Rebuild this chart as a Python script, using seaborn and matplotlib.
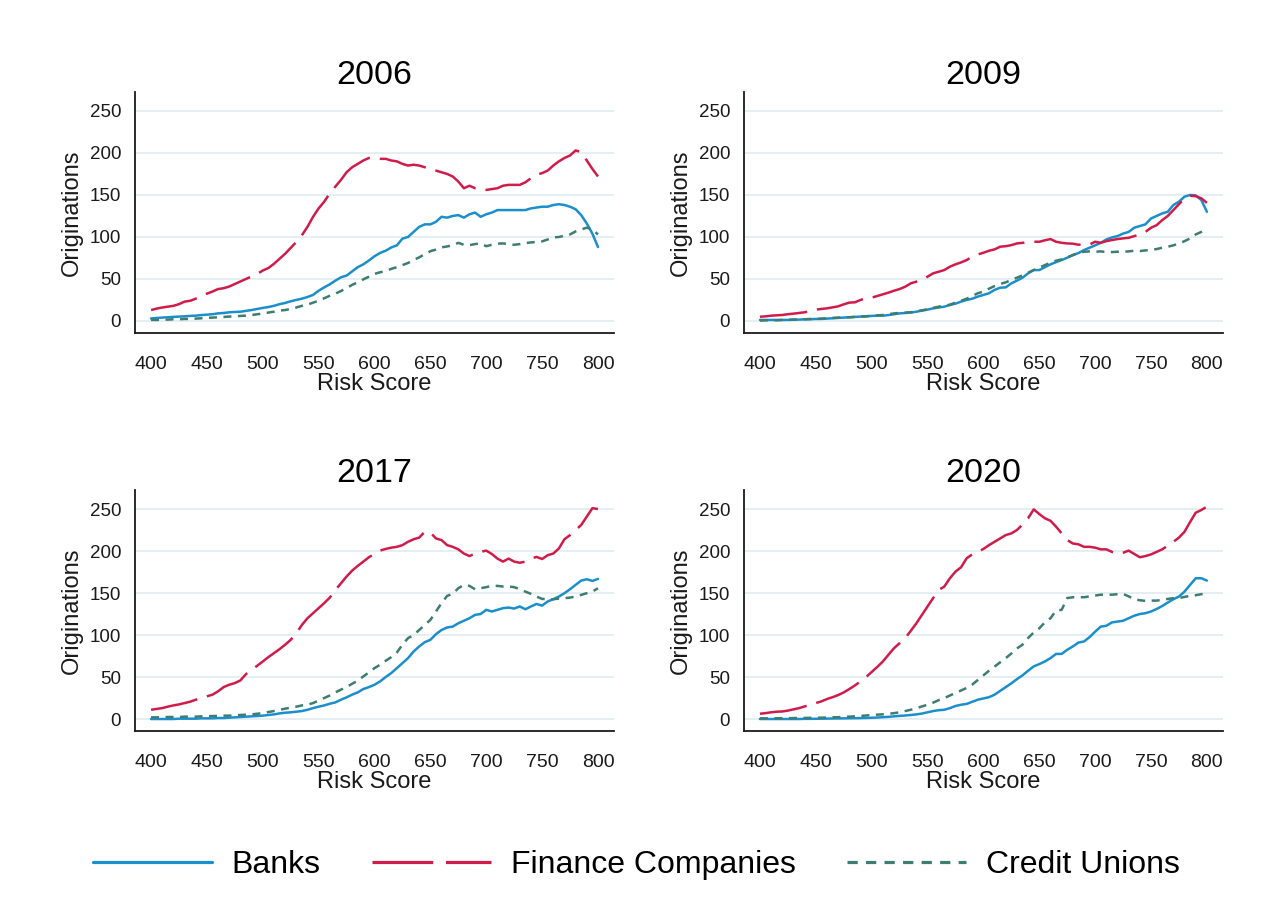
import matplotlib
matplotlib.use("Agg")
import matplotlib.pyplot as plt
import pandas as pd
import seaborn as sns
from matplotlib.lines import Line2D

# Risk score grid shared by every panel
score = list(range(400, 805, 5))
years = ["2006", "2009", "2017", "2020"]
lenders = ["Banks", "Finance Companies", "Credit Unions"]

banks_2006 = [3, 3.5, 4, 4.4, 4.8, 5.2, 5.5, 6, 6.3, 7,
              7.5, 8, 9, 9.5, 10.3, 10.7, 11, 12, 13, 14.3,
              15.5, 16.6, 18, 20, 21.4, 23.4, 25, 26.5, 28.5, 31,
              36, 40, 43.6, 48, 52, 54, 59, 64, 67.4, 72,
              77, 81, 83.6, 87.5, 90, 98, 100, 106, 112, 115,
              115, 118, 124, 123, 125, 126, 123, 127, 129, 124,
              127, 129, 132, 132, 132, 132, 132, 132, 134, 135,
              136, 136, 138, 139, 138, 136, 133, 126, 116, 104,
              88]
finance_2006 = [13, 14.7, 16, 17, 18, 20, 23, 24, 26.5, 30,
                32.5, 35, 38, 39, 41, 44, 47, 50, 53, 56,
                60, 63, 68, 74, 80, 87, 94, 102, 112, 124,
                134, 142, 152, 160, 168, 177, 183, 187, 191, 194,
                194, 193, 193, 191, 190, 187, 185, 186, 185, 183,
                181, 179, 177, 175, 172, 166, 158, 161, 158, 157,
                156, 157, 158, 161, 162, 162, 162, 165, 170, 174,
                176, 179, 185, 190, 194, 197, 203, 201, 191, 181,
                172]
credit_2006 = [1.2, 1.2, 1.6, 1.6, 2, 2, 2.4, 2.4, 2.8, 3.2,
               3.6, 4, 4.4, 4.8, 5.2, 5.5, 6, 6.3, 7, 8,
               8.7, 10, 11, 12.3, 13, 14.3, 16, 18, 19.4, 21.8,
               24, 27, 30, 32.5, 35.7, 39, 43, 46, 49.5, 52.7,
               56, 58, 59.4, 62, 64, 66.5, 69, 72.5, 75.7, 79.6,
               83, 85, 87.6, 88.7, 90, 93, 90.7, 90.3, 91.5, 92.3,
               89, 90.7, 92, 92.3, 91.5, 90.7, 91.5, 92.7, 93.5, 94,
               94.7, 97, 99.4, 100, 101.4, 103, 106.6, 109, 111, 109,
               103]

banks_2009 = [1.2, 1.2, 1.2, 1.2, 1.2, 1.2, 1.6, 1.6, 2, 2,
              2.4, 2.4, 2.8, 3.2, 3.6, 4, 4.4, 4.8, 5.2, 5.5,
              6, 6.3, 6.3, 7, 8, 9, 9.5, 10, 11, 12.3,
              13.5, 15, 16, 17, 19, 20.6, 23, 25, 26.5, 29,
              31, 33, 37, 39.6, 40, 44.8, 48, 51.5, 56.7, 60.6,
              60.6, 64, 67.4, 70, 72.5, 75.3, 78.4, 80.8, 84.4, 87.2,
              90, 93, 97, 99.4, 101, 104, 106, 111, 113, 115,
              122, 125, 128, 130, 138, 142, 148, 150, 149.4, 144,
              130]
finance_2009 = [5, 5.5, 6.3, 6.7, 7.1, 8, 8.7, 9.5, 10.3, 12,
                13.5, 14.3, 15, 16.2, 17.4, 19.8, 21.8, 22.2, 25, 27.3,
                27.7, 29.7, 31.7, 33.7, 36, 38, 40.8, 44.8, 46.8, 49,
                52.7, 56.7, 58.6, 60.6, 64.6, 67.4, 69.7, 72.5, 76.5, 79.2,
                81.2, 83.6, 85.2, 88.4, 89, 90.3, 92.3, 93, 94, 94.3,
                94.3, 96, 97.5, 94.3, 93, 92.3, 92, 90.7, 91.5, 91,
                94.3, 93, 95, 96.3, 97.5, 98.3, 99, 101, 103, 106,
                111, 114, 120, 125, 132, 139, 146, 149, 148.6, 146,
                140.6]
credit_2009 = [0.4, 0.8, 0.8, 0.8, 1.2, 1.2, 1.6, 1.6, 2, 2.4,
               2.4, 2.8, 3.2, 3.6, 4, 4, 4.4, 4.8, 5.2, 5.5,
               6.3, 6.7, 7, 8, 9, 9.5, 10, 10.3, 11.5, 12.7,
               13.9, 15.5, 17, 18, 19.4, 21.8, 24, 26.5, 29.7, 33,
               35, 38.4, 41.6, 44, 46, 48.7, 51.5, 54.3, 57.4, 60.6,
               63.4, 66.5, 69.3, 71.7, 73.3, 75.7, 78.4, 81.2, 82.4, 82.8,
               82.4, 82.8, 82, 82, 82.4, 82.4, 82.8, 83.6, 83.2, 84,
               84.4, 85.6, 87.2, 88.4, 90, 92.3, 95, 98.3, 103, 106,
               110]

banks_2017 = [0, 0, 0, 0, 0, 0.4, 0.4, 0.4, 0.4, 0.8,
              0.8, 0.8, 1.2, 1.2, 1.6, 2, 2.4, 2.8, 3.2, 3.6,
              4, 4.8, 5.5, 6.7, 7.5, 8, 8.7, 9.5, 11, 13,
              14.7, 16.2, 18.2, 19.8, 23, 25.8, 29, 31.7, 35.7, 38,
              40.8, 44.8, 50, 54.7, 60.6, 66.5, 72.5, 80.4, 86.4, 91.5,
              94.3, 101, 106, 109, 110, 114, 117, 120, 124, 125,
              130, 128, 130, 132, 132.7, 131.5, 134, 130.7, 134, 137,
              135, 140, 142.6, 145.8, 149.8, 154.5, 159.7, 164.8, 166.4, 164.4,
              166.8]
finance_2017 = [11, 12, 13, 14.7, 16.2, 17.4, 19, 20.6, 23, 25,
                27, 29, 33, 38, 40.8, 42.8, 46, 53.5, 58.6, 63.4,
                68.5, 73.7, 78.4, 83.2, 88.4, 94.3, 102, 112, 120, 126,
                132, 138, 144.6, 153.7, 161.6, 169.6, 176.7, 182.3, 187.4, 192.6,
                196.5, 200.5, 202.5, 204, 205, 207, 211, 214, 216, 223,
                222, 215, 213, 207, 205, 202, 197, 194, 197, 199,
                200.5, 196.5, 191, 187.4, 191, 187.4, 186, 187.4, 191, 193,
                190.5, 195, 197, 203, 214, 219, 225, 231, 241, 251,
                250]
credit_2017 = [2, 2, 2, 2.4, 2.4, 2.4, 2.8, 2.8, 2.8, 3.2,
               3.2, 3.6, 3.6, 4, 4, 4.4, 4.8, 5.2, 5.5, 6.3,
               7, 8.3, 9.5, 11, 12.3, 13.5, 14.7, 16.2, 17, 19,
               22, 25, 28, 31.7, 35, 38, 42, 45.6, 50.7, 55.5,
               60.6, 64.6, 69.3, 73.7, 79.2, 88.4, 96.3, 100, 106, 112,
               118, 128, 138, 146.6, 149, 155.7, 159.7, 158.5, 154.5, 155.7,
               157, 158.5, 158.5, 157.7, 157.7, 157, 154.5, 151.7, 149, 145.8,
               143, 142.6, 142.6, 143.4, 143.8, 144.6, 145.8, 147.8, 149.8, 151.7,
               155.7]

banks_2020 = [0, 0, 0, 0, 0, 0, 0, 0, 0.2, 0.2,
              0.3, 0.4, 0.5, 0.6, 0.7, 0.8, 0.9, 1, 1.1, 1.3,
              1.5, 1.8, 2.2, 2.6, 3.2, 3.7, 4.2, 4.8, 5.5, 6.5,
              8, 9.5, 10.5, 11, 13, 15.5, 17, 18, 20.5, 23,
              24.5, 26, 29, 33.5, 38, 42.5, 47.5, 52, 57.5, 62.6,
              65.4, 68.5, 72.5, 77.5, 77.5, 82.4, 86.4, 91, 92.3, 97.5,
              104, 110, 111, 115, 116, 117, 120, 123, 125, 126,
              128, 131, 134.5, 138.7, 142.6, 145.8, 151.7, 159.7, 167.6, 167.6,
              164.8]
finance_2020 = [6.3, 7, 8, 8.7, 9, 10, 11.5, 13, 15, 16.6,
                19, 21, 23.8, 26, 28.5, 31.7, 35.7, 40, 44.8, 50,
                56, 62, 68.5, 76.5, 84.4, 90.3, 96.3, 105, 114, 124,
                134, 144, 153.7, 157.7, 167.6, 175.5, 180.7, 191.4, 196, 199,
                202.5, 207, 211, 215, 219, 221, 225, 231.6, 239, 249.6,
                244, 239, 236, 229, 221, 213, 209, 208, 205, 205,
                204, 202, 202, 199, 197, 198, 200.5, 196.5, 192.6, 194,
                196, 199, 202, 206.4, 211, 216, 223, 234.6, 245.6, 248.8,
                252.8]
credit_2020 = [0.8, 0.8, 0.8, 0.9, 1, 1, 1.1, 1.2, 1.3, 1.4,
               1.5, 1.6, 1.8, 2, 2.2, 2.5, 2.8, 3.2, 3.6, 4.2,
               4.8, 5.2, 5.6, 6.2, 7, 8, 9.5, 11, 12.8, 15,
               17, 19.5, 22.5, 25, 28, 31, 34, 37, 41, 46.5,
               52, 57.5, 62.5, 67.5, 72.5, 78, 84, 88.5, 96.5, 103,
               108, 115, 120, 129, 130, 144, 145, 145, 145, 146,
               147, 148, 148, 148, 148.6, 149, 146, 142.6, 141.4, 140.6,
               141, 141, 141.8, 143, 143.8, 144, 145.4, 146.6, 147.4, 148.6,
               149.8]

y_ticks = [0, 50, 100, 150, 200, 250]
x_ticks = [400, 450, 500, 550, 600, 650, 700, 750, 800]

series = {
    "2006": [banks_2006, finance_2006, credit_2006],
    "2009": [banks_2009, finance_2009, credit_2009],
    "2017": [banks_2017, finance_2017, credit_2017],
    "2020": [banks_2020, finance_2020, credit_2020],
}

frames = []
for year in years:
    for lender, vals in zip(lenders, series[year]):
        frames.append(pd.DataFrame({"year": year, "lender": lender,
                                    "score": score, "originations": vals}))
data = pd.concat(frames, ignore_index=True)

sns.set_style("white")
plt.rcParams["font.family"] = ["Liberation Sans", "DejaVu Sans"]

palette = {"Banks": "#1b8fcc", "Finance Companies": "#d01c4b",
           "Credit Unions": "#3d7d72"}
dash_map = {"Banks": "", "Finance Companies": (19, 4),
            "Credit Unions": (3.2, 2.6)}

fig = plt.figure(figsize=(12.67, 9.17), dpi=100)

panel_w, panel_h = 0.3777, 0.2628
lefts = [0.1066, 0.5872]
bottoms = [0.6369, 0.2028]
ink = "#1a1a1a"

for i, year in enumerate(years):
    ax = fig.add_axes([lefts[i % 2], bottoms[i // 2], panel_w, panel_h])
    sub = data[data["year"] == year]
    sns.lineplot(data=sub, x="score", y="originations", hue="lender",
                 style="lender", hue_order=lenders, style_order=lenders,
                 palette=palette, dashes=dash_map, linewidth=1.8,
                 estimator=None, legend=False, ax=ax)
    ax.set_xlim(385.7, 814)
    ax.set_ylim(-14.3, 272.6)
    ax.set_xticks(x_ticks)
    ax.set_yticks(y_ticks)
    ax.yaxis.grid(True, color="#e5eef2", linewidth=1.4)
    ax.xaxis.grid(False)
    ax.set_axisbelow(True)
    for side in ("top", "right"):
        ax.spines[side].set_visible(False)
    for side in ("left", "bottom"):
        ax.spines[side].set_color(ink)
        ax.spines[side].set_linewidth(1.3)
    ax.tick_params(axis="both", which="major", direction="out", length=6,
                   width=1.3, color=ink, labelcolor=ink)
    ax.tick_params(axis="x", pad=10.5, labelsize=14)
    ax.tick_params(axis="y", pad=4, labelsize=13.5)
    ax.set_xlabel("Risk Score", fontsize=17, color=ink, labelpad=0)
    ax.set_ylabel("Originations", fontsize=17, color=ink, labelpad=5)
    ax.set_title(year, fontsize=24.5, color="black", pad=6)

handles = [Line2D([0], [0], color=palette[l], linewidth=2.3,
                  linestyle=("-" if dash_map[l] == "" else (0, dash_map[l])))
           for l in lenders]
fig.legend(handles, lenders, loc="center", bbox_to_anchor=(0.502, 0.0567),
           ncol=3, frameon=False, fontsize=23, handlelength=3.75,
           handletextpad=0.6, columnspacing=1.6, labelcolor="black")

fig.savefig("out.png", dpi=100, facecolor="white")
